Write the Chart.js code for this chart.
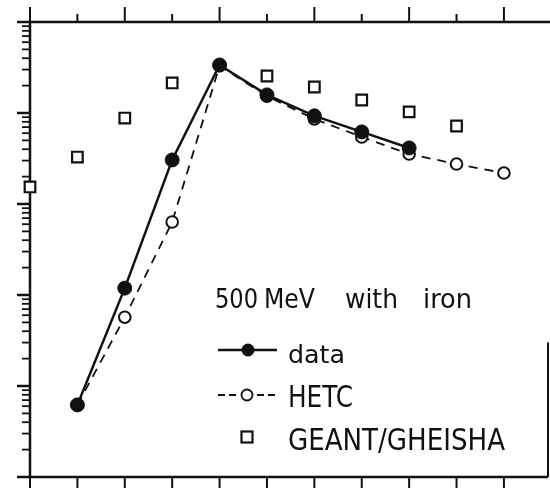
<!DOCTYPE html>
<html lang="en">
<head>
<meta charset="UTF-8">
<title>500 MeV with iron</title>
<script src="https://cdn.jsdelivr.net/npm/chart.js"></script>
<style>
html, body { margin: 0; padding: 0; background: #fff; }
#plot { display: block; }
</style>
</head>
<body>
<canvas id="plot" width="550" height="489"></canvas>
<script>
// bin index along the horizontal axis
const bins = [0, 1, 2, 3, 4, 5, 6, 7, 8, 9, 10];
// measured counts
const dataCounts = [null, 6.2, 119, 3050, 33700, 15800, 9300, 6200, 4130, null, null];
// HETC prediction
const hetcCounts = [null, 6.2, 57, 634, 33000, 15300, 8600, 5450, 3540, 2750, 2190];
// GEANT/GHEISHA prediction
const geantCounts = [1540, 3280, 8800, 21400, null, 25500, 19300, 13900, 10300, 7200, null];

const xMin = 0, xMax = 10.93;
const yMin = 1, yMax = 1e5;

function toPoints(values) {
    return bins.map((x, i) => ({ x: x, y: values[i] })).filter(p => p.y !== null);
}

const FONT = '"DejaVu Sans Condensed", "DejaVu Sans", sans-serif';

// axes with outward ticks: top and bottom linear, left logarithmic
const framePlugin = {
    id: 'frame',
    beforeDatasetsDraw(chart) {
        const ctx = chart.ctx;
        const a = chart.chartArea;
        const xs = chart.scales.x, ys = chart.scales.y;
        ctx.save();
        ctx.strokeStyle = '#111';
        ctx.lineCap = 'butt';

        // axis lines
        ctx.lineWidth = 2.5;
        ctx.beginPath();
        ctx.moveTo(a.left, a.top);
        ctx.lineTo(chart.width, a.top);
        ctx.moveTo(a.left, a.top);
        ctx.lineTo(a.left, a.bottom);
        ctx.moveTo(a.left, a.bottom);
        ctx.lineTo(a.right, a.bottom);
        ctx.stroke();

        // right border only survives near the bottom
        ctx.lineWidth = 2;
        ctx.beginPath();
        ctx.moveTo(a.right, a.bottom);
        ctx.lineTo(a.right, ys.getPixelForValue(30));
        ctx.stroke();

        // x ticks, long on even bins
        ctx.lineWidth = 2;
        ctx.beginPath();
        for (let i = 0; i <= 10; i++) {
            const px = xs.getPixelForValue(i);
            const major = i % 2 === 0;
            ctx.moveTo(px, a.top);
            ctx.lineTo(px, a.top - (major ? 15 : 8));
            ctx.moveTo(px, a.bottom);
            ctx.lineTo(px, a.bottom + 11);
        }
        ctx.stroke();

        // log ticks on the left
        for (let d = 0; d < 5; d++) {
            for (let m = 1; m <= 9; m++) {
                const v = m * Math.pow(10, d);
                const py = ys.getPixelForValue(v);
                ctx.lineWidth = m === 1 ? 2.5 : 1.8;
                ctx.beginPath();
                ctx.moveTo(a.left, py);
                ctx.lineTo(a.left - (m === 1 ? 13 : 8), py);
                ctx.stroke();
            }
        }
        const pTop = ys.getPixelForValue(yMax);
        ctx.lineWidth = 2.5;
        ctx.beginPath();
        ctx.moveTo(a.left, pTop);
        ctx.lineTo(a.left - 13, pTop);
        ctx.stroke();
        ctx.restore();
    }
};

// draw a word stretched to fit between x0 and x1
function fitText(ctx, str, x0, x1, baseline, size) {
    ctx.font = size + 'px ' + FONT;
    const w = ctx.measureText(str).width;
    ctx.save();
    ctx.translate(x0, baseline);
    ctx.scale((x1 - x0) / w, 1);
    ctx.fillText(str, 0, 0);
    ctx.restore();
}

// title and key inside the plot
const keyPlugin = {
    id: 'key',
    afterDatasetsDraw(chart) {
        const ctx = chart.ctx;
        ctx.save();
        ctx.fillStyle = '#111';
        ctx.strokeStyle = '#111';
        ctx.textBaseline = 'alphabetic';

        fitText(ctx, '500', 215, 258, 308, 27);
        fitText(ctx, 'MeV', 264, 315, 308, 27);
        fitText(ctx, 'with', 345, 398, 308, 27);
        fitText(ctx, 'iron', 423, 472, 308, 27);

        // data
        ctx.lineWidth = 2.5;
        ctx.beginPath();
        ctx.moveTo(218, 350);
        ctx.lineTo(277, 350);
        ctx.stroke();
        ctx.beginPath();
        ctx.arc(248, 350, 6.5, 0, Math.PI * 2);
        ctx.fill();
        fitText(ctx, 'data', 288, 345, 363, 25);

        // HETC
        ctx.lineWidth = 1.8;
        ctx.setLineDash([7, 4]);
        ctx.beginPath();
        ctx.moveTo(218, 395);
        ctx.lineTo(238, 395);
        ctx.moveTo(257, 395);
        ctx.lineTo(277, 395);
        ctx.stroke();
        ctx.setLineDash([]);
        ctx.beginPath();
        ctx.arc(247, 395, 5.5, 0, Math.PI * 2);
        ctx.stroke();
        fitText(ctx, 'HETC', 288, 353, 407, 30);

        // GEANT/GHEISHA
        ctx.lineWidth = 2.2;
        ctx.strokeRect(241.5, 431.5, 11, 11);
        fitText(ctx, 'GEANT/GHEISHA', 288, 505, 450, 31);
        ctx.restore();
    }
};

const ctx = document.getElementById('plot').getContext('2d');
const chart = new Chart(ctx, {
    type: 'scatter',
    data: {
        datasets: [
            {
                label: 'data',
                data: toPoints(dataCounts),
                showLine: true,
                borderColor: '#111',
                borderWidth: 2.5,
                pointRadius: 7,
                pointBackgroundColor: '#111',
                pointBorderColor: '#111',
                pointBorderWidth: 1,
                clip: false
            },
            {
                label: 'HETC',
                data: toPoints(hetcCounts),
                showLine: true,
                borderColor: '#111',
                borderWidth: 1.8,
                borderDash: [9, 7],
                pointRadius: 5.8,
                pointBackgroundColor: '#fff',
                pointBorderColor: '#111',
                pointBorderWidth: 2,
                clip: false
            },
            {
                label: 'GEANT/GHEISHA',
                data: toPoints(geantCounts),
                showLine: false,
                pointStyle: 'rect',
                pointRadius: 7.5,
                pointBackgroundColor: '#fff',
                pointBorderColor: '#111',
                pointBorderWidth: 2.2,
                clip: false
            }
        ]
    },
    options: {
        responsive: false,
        animation: false,
        layout: { autoPadding: false, padding: { left: 30, right: 2, top: 22, bottom: 12 } },
        plugins: {
            legend: { display: false },
            tooltip: { enabled: false }
        },
        scales: {
            x: { type: 'linear', min: xMin, max: xMax, display: false },
            y: { type: 'logarithmic', min: yMin, max: yMax, display: false }
        }
    },
    plugins: [framePlugin, keyPlugin]
});
</script>
</body>
</html>
